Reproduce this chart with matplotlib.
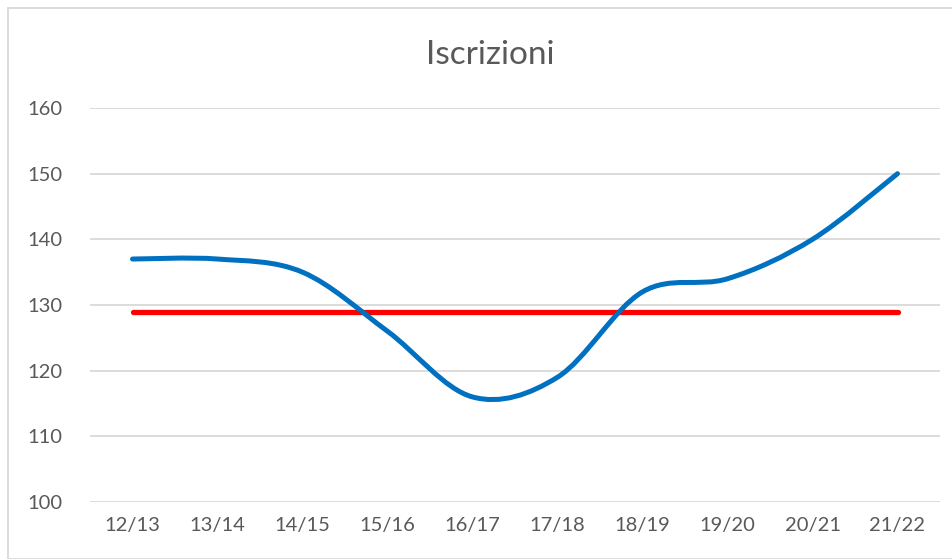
import numpy as np
import matplotlib.pyplot as plt
from matplotlib.path import Path
from matplotlib.patches import PathPatch, Rectangle

plt.rcParams['font.family'] = ['Lato', 'DejaVu Sans']

anni = ['12/13', '13/14', '14/15', '15/16', '16/17', '17/18', '18/19', '19/20', '20/21', '21/22']
iscrizioni = [137, 137, 135, 126, 116, 119, 132, 134, 140, 150]
media = [129] * len(anni)
yticks = [100, 110, 120, 130, 140, 150, 160]

fig = plt.figure(figsize=(9.52, 5.59), dpi=100)
ax = fig.add_axes([90 / 952, 57 / 559, 850 / 952, 394 / 559])

# smoothed line (Excel-style bezier through the points)
x = np.arange(len(anni), dtype=float)
y = np.array(iscrizioni, dtype=float)
verts = [(x[0], y[0])]
codes = [Path.MOVETO]
n = len(x)
for i in range(n - 1):
    p0 = (x[max(i - 1, 0)], y[max(i - 1, 0)])
    p1 = (x[i], y[i])
    p2 = (x[i + 1], y[i + 1])
    p3 = (x[min(i + 2, n - 1)], y[min(i + 2, n - 1)])
    c1 = (p1[0] + (p2[0] - p0[0]) / 6, p1[1] + (p2[1] - p0[1]) / 6)
    c2 = (p2[0] - (p3[0] - p1[0]) / 6, p2[1] - (p3[1] - p1[1]) / 6)
    verts += [c1, c2, p2]
    codes += [Path.CURVE4] * 3
ax.add_patch(PathPatch(Path(verts, codes), facecolor='none', edgecolor='#0070C0',
                       lw=3.6, capstyle='round', joinstyle='round', zorder=4))

ax.plot(x, media, color='#FF0000', lw=3.8, solid_capstyle='round', zorder=3)

ax.set_xlim(-0.5, len(anni) - 0.5)
ax.set_ylim(100, 160)
ax.set_yticks(yticks)
ax.set_xticks(x)
ax.set_xticklabels(anni)
ax.grid(axis='y', color='#D9D9D9', lw=1.3)
ax.set_axisbelow(True)
for s in ax.spines.values():
    s.set_visible(False)
ax.tick_params(length=0, labelsize=14.5, colors='#595959', pad=11)
ax.tick_params(axis='y', pad=20)

fig.text(490 / 952, 1 - 55 / 559, 'Iscrizioni', ha='center', va='center',
         fontsize=24, color='#595959')

fig.patches.append(Rectangle((8 / 952, 0), 1.0, 1 - 8 / 559, transform=fig.transFigure,
                             fill=False, edgecolor='#D9D9D9', lw=1.3))

fig.savefig('out.png', dpi=100)
